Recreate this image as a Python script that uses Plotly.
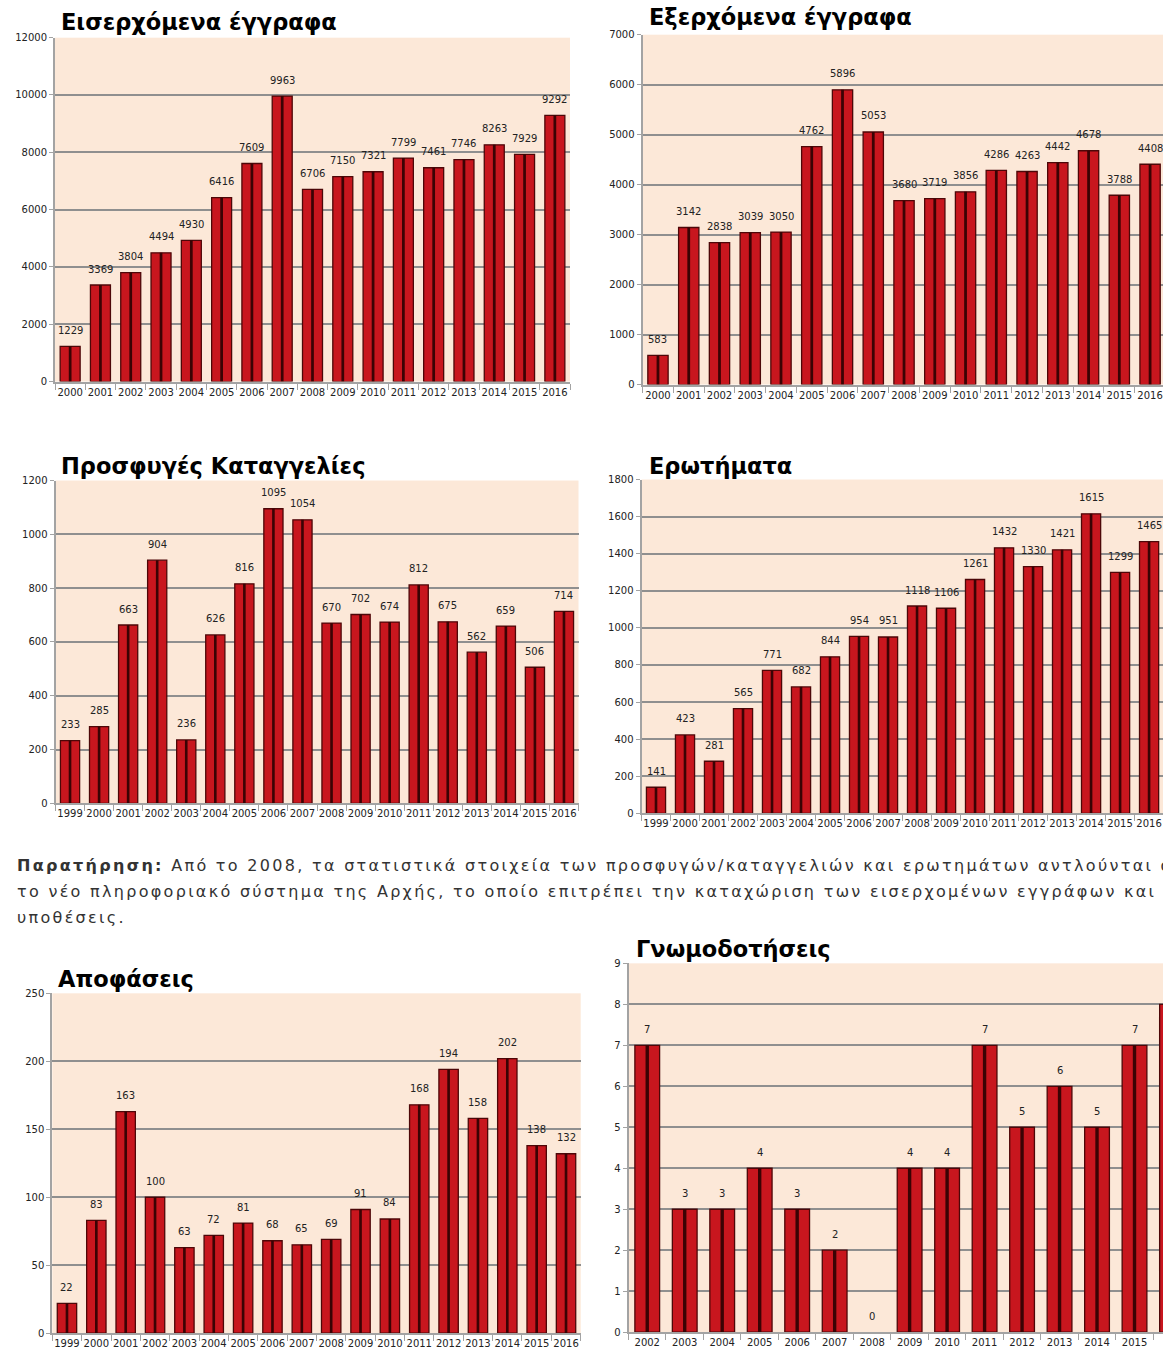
import plotly.graph_objects as go

W, H = 1163, 1351

# ---------------- data ----------------
years_2000 = ["2000", "2001", "2002", "2003", "2004", "2005", "2006", "2007", "2008",
              "2009", "2010", "2011", "2012", "2013", "2014", "2015", "2016"]
years_1999 = ["1999", "2000", "2001", "2002", "2003", "2004", "2005", "2006", "2007", "2008",
              "2009", "2010", "2011", "2012", "2013", "2014", "2015", "2016"]
years_2002 = ["2002", "2003", "2004", "2005", "2006", "2007", "2008", "2009",
              "2010", "2011", "2012", "2013", "2014", "2015", "2016"]

incoming = [1229, 3369, 3804, 4494, 4930, 6416, 7609, 9963, 6706, 7150, 7321,
            7799, 7461, 7746, 8263, 7929, 9292]
outgoing = [583, 3142, 2838, 3039, 3050, 4762, 5896, 5053, 3680, 3719, 3856,
            4286, 4263, 4442, 4678, 3788, 4408]
complaints = [233, 285, 663, 904, 236, 626, 816, 1095, 1054, 670, 702, 674,
              812, 675, 562, 659, 506, 714]
queries = [141, 423, 281, 565, 771, 682, 844, 954, 951, 1118, 1106, 1261,
           1432, 1330, 1421, 1615, 1299, 1465]
decisions = [22, 83, 163, 100, 63, 72, 81, 68, 65, 69, 91, 84, 168, 194,
             158, 202, 138, 132]
opinions = [7, 3, 3, 4, 3, 2, 0, 4, 4, 7, 5, 6, 5, 7, 8]

titles = ["Εισερχόμενα έγγραφα", "Εξερχόμενα έγγραφα", "Προσφυγές Καταγγελίες",
          "Ερωτήματα", "Αποφάσεις", "Γνωμοδοτήσεις"]

note_lines = [
    "<b>Παρατήρηση:</b> Από το 2008, τα στατιστικά στοιχεία των προσφυγών/καταγγελιών και ερωτημάτων αντλούνται από",
    "το νέο πληροφοριακό σύστημα της Αρχής, το οποίο επιτρέπει την καταχώριση των εισερχομένων εγγράφων και",
    "υποθέσεις.",
]

# ---------------- layout geometry (pixels) ----------------
charts = [
    dict(cats=years_2000, vals=incoming, l=55, r=570, t=37, b=381, ymax=12000, dtick=2000,
         xr=None, title=titles[0], tx=59, ty=21),
    dict(cats=years_2000, vals=outgoing, l=642.6, r=1163, t=34, b=384, ymax=7000, dtick=1000,
         xr=[-0.5, 16.42], title=titles[1], tx=647, ty=16),
    dict(cats=years_1999, vals=complaints, l=55.5, r=578.5, t=480, b=803, ymax=1200, dtick=200,
         xr=None, title=titles[2], tx=59, ty=465),
    dict(cats=years_1999, vals=queries, l=641.5, r=1163, t=479, b=813, ymax=1800, dtick=200,
         xr=[-0.5, 17.48], title=titles[3], tx=647, ty=465),
    dict(cats=years_1999, vals=decisions, l=52.3, r=580.7, t=993, b=1333, ymax=250, dtick=50,
         xr=None, title=titles[4], tx=56, ty=979),
    dict(cats=years_2002, vals=opinions, l=628.5, r=1163, t=963, b=1332, ymax=9, dtick=1,
         xr=[-0.5, 13.76], title=titles[5], tx=634, ty=949),
]


def fy(ypx):
    """pixel row (from top) -> paper fraction (with small empirical correction)"""
    return 1 - ((ypx - 5.3) / 0.9915) / H


FONT = "DejaVu Sans"
BAR = "#c8161e"
BAR_EDGE = "#4d0708"
INNER = "#3a0304"
GRID = "#8f8f8f"
AXIS = "#a3a3a3"

fig = go.Figure()
annotations = []
layout_axes = {}

for i, c in enumerate(charts, start=1):
    xa = "x" if i == 1 else f"x{i}"
    ya = "y" if i == 1 else f"y{i}"
    xkey = "xaxis" if i == 1 else f"xaxis{i}"
    ykey = "yaxis" if i == 1 else f"yaxis{i}"

    edge_w = [0 if v == 0 else 1.3 for v in c["vals"]]
    fig.add_trace(go.Bar(x=c["cats"], y=c["vals"], width=0.66, xaxis=xa, yaxis=ya,
                         marker=dict(color=BAR, line=dict(color=BAR_EDGE, width=edge_w)),
                         hoverinfo="x+y", showlegend=False))
    fig.add_trace(go.Bar(x=c["cats"], y=c["vals"], width=0.09, xaxis=xa, yaxis=ya,
                         marker=dict(color=INNER, line=dict(width=0)),
                         hoverinfo="skip", showlegend=False))

    for j, v in enumerate(c["vals"]):
        annotations.append(dict(x=j, y=v, xref=xa, yref=ya, text=str(v), showarrow=False,
                                yshift=16, yanchor="middle",
                                font=dict(family=FONT, size=10, color="#222222")))

    annotations.append(dict(x=c["tx"] / W, y=fy(c["ty"]), xref="paper", yref="paper",
                            text=f"<b>{c['title']}</b>", showarrow=False,
                            xanchor="left", yanchor="middle",
                            font=dict(family=FONT, size=22.5, color="#000000")))

    xr = c["xr"] if c["xr"] is not None else [-0.5, len(c["cats"]) - 0.5]
    layout_axes[xkey] = dict(domain=[c["l"] / W, c["r"] / W], anchor=ya, type="category",
                             range=xr, showline=True, linecolor=AXIS, linewidth=2,
                             ticks="outside", ticklen=6, tickcolor=AXIS, tickson="boundaries",
                             tickangle=0, showgrid=False, fixedrange=True,
                             tickfont=dict(family=FONT, size=10, color="#222222"))
    layout_axes[ykey] = dict(domain=[fy(c["b"]), fy(c["t"])], anchor=xa,
                             range=[0, c["ymax"]], dtick=c["dtick"], tickformat="d",
                             showgrid=True, gridcolor=GRID, gridwidth=1.5, zeroline=False,
                             showline=True, linecolor=AXIS, linewidth=2,
                             ticks="outside", ticklen=4, tickcolor=AXIS, fixedrange=True,
                             tickfont=dict(family=FONT, size=10, color="#222222"))

note_y = [865, 891, 917]
for txt, yy in zip(note_lines, note_y):
    annotations.append(dict(x=15 / W, y=fy(yy), xref="paper", yref="paper",
                            text=f'<span style="letter-spacing:2.3px">{txt}</span>',
                            showarrow=False, xanchor="left", yanchor="middle",
                            font=dict(family=FONT, size=16, color="#333333")))

fig.update_layout(width=W, height=H, margin=dict(l=0, r=0, t=0, b=0),
                  paper_bgcolor="white", plot_bgcolor="#fce8d8",
                  barmode="overlay", showlegend=False,
                  annotations=annotations, **layout_axes)

fig.write_html("out.html", config={"displayModeBar": False},
               post_script="document.body.style.margin='0';")
